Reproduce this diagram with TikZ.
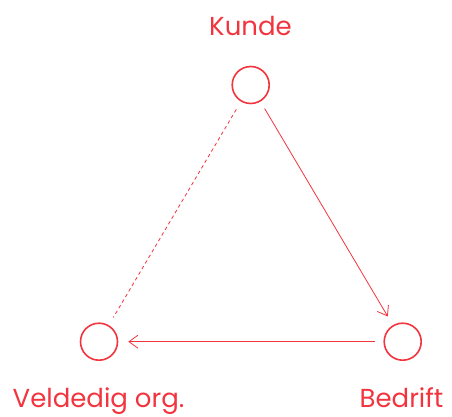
\documentclass[tikz,border=0pt]{standalone}
\usepackage{fontspec}
\setmainfont{Poppins}
\usetikzlibrary{arrows.meta}
\definecolor{rd}{RGB}{242,52,62}
\begin{document}
\begin{tikzpicture}[x=1pt,y=-1pt,
  party/.style={circle,draw=rd,line width=1.6pt,minimum size=37pt,inner sep=0pt},
  lbl/.style={text=rd,font=\fontsize{26}{30}\selectfont,anchor=base,inner sep=0pt},
  flow/.style={draw=rd,line width=0.8pt,-{Straight Barb[length=9pt,width=13pt,line width=0.8pt]},shorten <=8pt,shorten >=10pt},
  weak/.style={draw=rd,line width=0.8pt,dash pattern=on 3.5pt off 3pt,shorten <=9pt,shorten >=9pt}]
\useasboundingbox (0,0) rectangle (452,417);
\node[party] (k) at (250.7,85) {};
\node[party] (b) at (402.7,341.7) {};
\node[party] (v) at (99,341.7) {};
\node[lbl] (kl) at (250.5,36) {Kunde};
\node[lbl] (bl) at (401.5,407.5) {Bedrift};
\node[lbl] (vl) at (98.5,407.5) {Veldedig org.};
\draw[flow] (k) -- (b);
\draw[flow] (b) -- (v);
\draw[weak] (k) -- (v);
\end{tikzpicture}
\end{document}
